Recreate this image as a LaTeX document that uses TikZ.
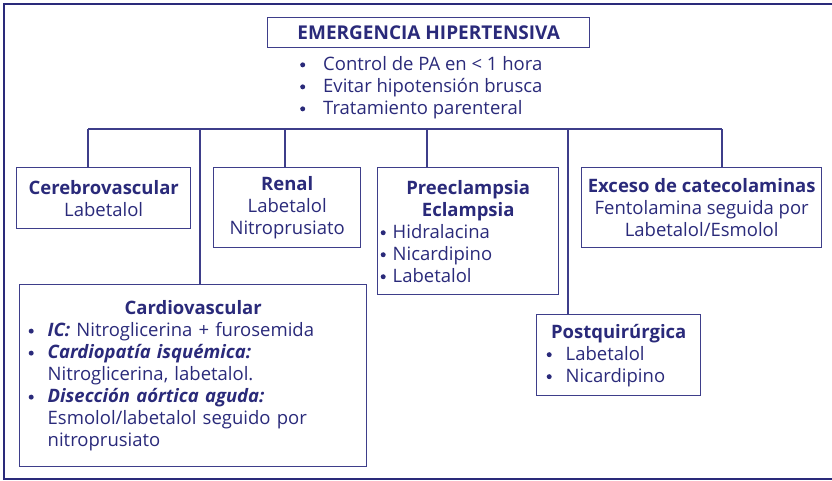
\documentclass[tikz,border=0pt]{standalone}
\usepackage{fontspec}
\setmainfont{Open Sans}
\definecolor{navy}{RGB}{42,42,122}
\definecolor{boxline}{RGB}{62,62,138}
\newcommand{\bul}{\tikz[baseline=0pt,x=1pt,y=1pt]\fill[navy] (2.5,5.4) circle (2.5);}
\newcommand{\bitem}[1]{\makebox[#1][l]{\bul}}
\newcommand{\cont}[1]{\makebox[#1]{}}
\begin{document}
\begin{tikzpicture}[x=1pt,y=-1pt,
  every node/.style={text=navy,font=\fontsize{18.5}{22}\selectfont},
  box/.style={draw=boxline,line width=1.4pt,inner sep=0pt,anchor=north west},
  conn/.style={draw=boxline,line width=1.2pt}]
\useasboundingbox (0,0) rectangle (832,480);
\draw[navy,line width=2.4pt] (832,4) -- (4,4) -- (4,479) -- (832,479);
% title
\node[box,minimum width=322pt,minimum height=30pt,font=\fontsize{19}{22}\selectfont\bfseries] (title) at (267,17) {EMERGENCIA HIPERTENSIVA};
\node[anchor=north west,inner sep=0pt,align=left] (gen) at (300,56) {%
  \bitem{23pt}Control de PA en < 1 hora\\
  \bitem{23pt}Evitar hipotensión brusca\\
  \bitem{23pt}Tratamiento parenteral};
% boxes
\node[box,minimum width=174pt,minimum height=61pt,align=center] (cer) at (16,167) {\textbf{Cerebrovascular}\\Labetalol};
\node[box,minimum width=147pt,minimum height=80pt,align=center] (ren) at (213,167) {\textbf{Renal}\\Labetalol\\Nitroprusiato};
\node[box,minimum width=181pt,minimum height=127pt,text width=175pt,align=left,inner xsep=3pt] (pre) at (377,167) {%
  {\centering\textbf{Preeclampsia}\\\textbf{Eclampsia}\par}
  \bitem{12pt}Hidralacina\\
  \bitem{12pt}Nicardipino\\
  \bitem{12pt}Labetalol};
\node[box,minimum width=240pt,minimum height=80pt,align=center] (exc) at (581,167) {\textbf{Exceso de catecolaminas}\\Fentolamina seguida por\\Labetalol/Esmolol};
\node[box,minimum width=347pt,minimum height=182pt,text width=337pt,align=left,inner xsep=5pt] (car) at (19,284) {%
  {\centering\textbf{Cardiovascular}\par}
  \cont{4pt}\bitem{19pt}\textbf{\textit{IC:}} Nitroglicerina + furosemida\\
  \cont{4pt}\bitem{19pt}\textbf{\textit{Cardiopatía isquémica:}}\\
  \cont{23pt}Nitroglicerina, labetalol.\\
  \cont{4pt}\bitem{19pt}\textbf{\textit{Disección aórtica aguda:}}\\
  \cont{23pt}Esmolol/labetalol seguido por\\
  \cont{23pt}nitroprusiato};
\node[box,minimum width=164pt,minimum height=81pt,text width=154pt,align=left,inner xsep=5pt] (pos) at (536,314) {%
  {\centering\textbf{Postquirúrgica}\par}
  \cont{5pt}\bitem{19pt}Labetalol\\
  \cont{5pt}\bitem{19pt}Nicardipino};
% connectors
\coordinate (bl) at (88,129);
\coordinate (br) at (722,129);
\coordinate (b2) at (200,129);
\coordinate (b3) at (285,129);
\coordinate (b4) at (427,129);
\coordinate (b5) at (568,129);
\draw[conn] (bl) -- (br);
\draw[conn] (bl) -- (bl |- cer.north);
\draw[conn] (b2) -- (b2 |- car.north);
\draw[conn] (b3) -- (b3 |- ren.north);
\draw[conn] (b4) -- (b4 |- pre.north);
\draw[conn] (b5) -- (b5 |- pos.north);
\draw[conn] (br) -- (br |- exc.north);
\end{tikzpicture}
\end{document}
